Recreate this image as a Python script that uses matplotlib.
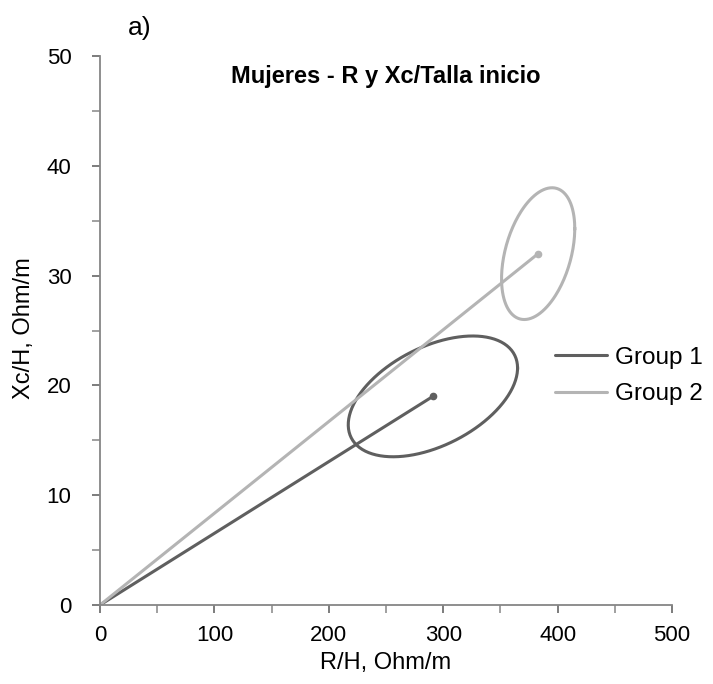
import numpy as np
import matplotlib
matplotlib.use("Agg")
import matplotlib.pyplot as plt

plt.rcParams['font.family'] = ['Liberation Sans', 'DejaVu Sans']

# mean vectors (R/H, Xc/H) and confidence ellipse spread per group
groups = ['Group 1', 'Group 2']
mean_r = [291, 383]
mean_xc = [19, 32]
half_r = [74, 32]      # half-width of ellipse along R/H
half_xc = [5.5, 6.0]   # half-height of ellipse along Xc/H
corr = [0.47, 0.38]
colors = ['#5f5f5f', '#b4b4b4']


def ellipse_points(mx, my, sx, sy, r, n=200):
    cov = np.array([[sx * sx, r * sx * sy], [r * sx * sy, sy * sy]])
    L = np.linalg.cholesky(cov)
    t = np.linspace(0, 2 * np.pi, n)
    pts = L @ np.vstack([np.cos(t), np.sin(t)])
    return mx + pts[0], my + pts[1]


W, H = 713, 684
fig = plt.figure(figsize=(W / 100, H / 100), dpi=100)
ax = fig.add_axes([100 / W, 1 - 605 / H, 572 / W, 549 / H])

handles = []
for i, g in enumerate(groups):
    ln, = ax.plot([0, mean_r[i]], [0, mean_xc[i]], color=colors[i], lw=2.2,
                  solid_capstyle='round', label=g)
    ax.plot(mean_r[i], mean_xc[i], 'o', color=colors[i], ms=4.5)
    ex, ey = ellipse_points(mean_r[i], mean_xc[i], half_r[i], half_xc[i], corr[i])
    ax.plot(ex, ey, color=colors[i], lw=2.2)
    handles.append(ln)

ax.set_xlim(0, 500)
ax.set_ylim(0, 50)
ax.set_xticks(np.arange(0, 501, 100))
ax.set_yticks(np.arange(0, 51, 10))
ax.set_xticks(np.arange(0, 501, 50), minor=True)
ax.set_yticks(np.arange(0, 51, 5), minor=True)
ax.tick_params(which='both', direction='out', length=5.5, width=1.1,
               color='#595959', labelsize=16)
ax.tick_params(axis='x', pad=9)
ax.tick_params(axis='y', pad=15)
ax.tick_params(which='minor', color='#868686')

for side in ['top', 'right']:
    ax.spines[side].set_visible(False)
for side in ['left', 'bottom']:
    ax.spines[side].set_color('#868686')
    ax.spines[side].set_linewidth(1.3)

fig.text(386 / W, 1 - 663 / H, 'R/H, Ohm/m', fontsize=17, ha='center', va='center')
fig.text(24 / W, 1 - 328 / H, 'Xc/H, Ohm/m', fontsize=17, rotation=90,
         ha='center', va='center')

fig.text(386 / W, 1 - 83 / H, 'Mujeres - R y Xc/Talla inicio',
         fontsize=17, fontweight='bold', ha='center', va='baseline')
fig.text(128 / W, 1 - 28 / H, 'a)', fontsize=19, ha='left', va='center')

ax.legend(handles=handles, loc='center left', frameon=False, fontsize=17.5,
          bbox_to_anchor=(555 / W, 1 - 376 / H), bbox_transform=fig.transFigure,
          borderpad=0, borderaxespad=0, handlelength=2.15, handletextpad=0.3,
          labelspacing=0.6)

fig.savefig('out.png', dpi=100)
